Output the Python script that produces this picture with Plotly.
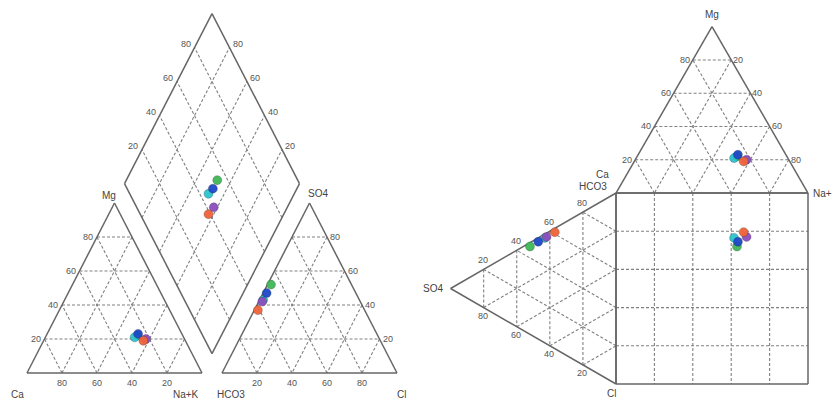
import plotly.graph_objects as go

# ---- sample chemistry (% meq/L) ----
samples = ["S1", "S2", "S3", "S4", "S5"]
colors = ["#F0643A", "#8C4DBD", "#1E48C8", "#2CC3CE", "#3FB856"]
ca = [24, 22, 25, 28, 26]
mg = [19, 20, 23, 21, 22]
na_k = [57, 58, 52, 51, 52]
hco3 = [61, 56, 51, 55, 46]
so4 = [37, 42, 47, 43, 52]
cl = [2, 2, 2, 2, 2]
grid_levels = [20, 40, 60, 80]

# ---- layout geometry (page pixels) ----
W, H = 832, 400
P_SIDE, P_HGT, P_GAP = 175.0, 170.0, 20.0
P_X0, P_Y0 = 27.0, 373.0
D_X0, D_Y0, D_SIDE_X, D_SIDE_Y = 616.0, 193.0, 192.0, 191.0

def lerp3(v1, v2, v3, f1, f2, f3):
    return (v1[0] * f1 + v2[0] * f2 + v3[0] * f3, v1[1] * f1 + v2[1] * f2 + v3[1] * f3)

# Piper triangles: vertices keyed by component
p_cat = {"Ca": (P_X0, P_Y0), "Na": (P_X0 + P_SIDE, P_Y0), "Mg": (P_X0 + P_SIDE / 2, P_Y0 - P_HGT)}
ax0 = P_X0 + P_SIDE + P_GAP
p_an = {"HCO3": (ax0, P_Y0), "Cl": (ax0 + P_SIDE, P_Y0), "SO4": (ax0 + P_SIDE / 2, P_Y0 - P_HGT)}
g = P_GAP / P_SIDE
p_B = (P_X0 + P_SIDE + P_GAP / 2, P_Y0 - g * P_HGT)
p_L = (p_B[0] - P_SIDE / 2, p_B[1] - P_HGT)
p_R = (p_B[0] + P_SIDE / 2, p_B[1] - P_HGT)
p_T = (p_B[0], p_B[1] - 2 * P_HGT)

def diamond(a, b):
    # a = Ca+Mg fraction, b = SO4+Cl fraction
    return (p_B[0] + a * (p_L[0] - p_B[0]) + b * (p_R[0] - p_B[0]),
            p_B[1] + a * (p_L[1] - p_B[1]) + b * (p_R[1] - p_B[1]))

# Durov: cation triangle on top of the square, anion triangle to its left
d_hx = D_SIDE_X * 0.8660254
d_hy = D_SIDE_Y * 0.8660254
d_cat = {"Ca": (D_X0, D_Y0), "Na": (D_X0 + D_SIDE_X, D_Y0), "Mg": (D_X0 + D_SIDE_X / 2, D_Y0 - d_hx)}
d_an = {"HCO3": (D_X0, D_Y0), "Cl": (D_X0, D_Y0 + D_SIDE_Y), "SO4": (D_X0 - d_hy, D_Y0 + D_SIDE_Y / 2)}

def tern(tri, keys, fr):
    return lerp3(tri[keys[0]], tri[keys[1]], tri[keys[2]], *fr)

frame_x, frame_y = [], []
grid_x, grid_y = [], []

def seg(xs, ys, p, q):
    xs += [p[0], q[0], None]
    ys += [p[1], q[1], None]

def poly(pts):
    for i in range(len(pts)):
        seg(frame_x, frame_y, pts[i], pts[(i + 1) % len(pts)])

def tri_grid(tri, keys):
    for lv in grid_levels:
        k = lv / 100
        for i in range(3):
            f1 = [0, 0, 0]
            f2 = [0, 0, 0]
            f1[i] = f2[i] = k
            f1[(i + 1) % 3] = 1 - k
            f2[(i + 2) % 3] = 1 - k
            seg(grid_x, grid_y, tern(tri, keys, f1), tern(tri, keys, f2))

ck = ("Ca", "Na", "Mg")
ak = ("HCO3", "Cl", "SO4")

# frames
poly([p_cat["Ca"], p_cat["Na"], p_cat["Mg"]])
poly([p_an["HCO3"], p_an["Cl"], p_an["SO4"]])
poly([p_B, p_R, p_T, p_L])
poly([d_cat["Ca"], d_cat["Na"], d_cat["Mg"]])
poly([d_an["HCO3"], d_an["Cl"], d_an["SO4"]])
poly([(D_X0, D_Y0), (D_X0 + D_SIDE_X, D_Y0), (D_X0 + D_SIDE_X, D_Y0 + D_SIDE_Y), (D_X0, D_Y0 + D_SIDE_Y)])

# grids
tri_grid(p_cat, ck)
tri_grid(p_an, ak)
tri_grid(d_cat, ck)
tri_grid(d_an, ak)
for lv in grid_levels:
    k = lv / 100
    seg(grid_x, grid_y, diamond(k, 0), diamond(k, 1))
    seg(grid_x, grid_y, diamond(0, k), diamond(1, k))
    xs = D_X0 + D_SIDE_X * k
    ys = D_Y0 + D_SIDE_Y * k
    seg(grid_x, grid_y, (xs, D_Y0), (xs, D_Y0 + D_SIDE_Y))
    seg(grid_x, grid_y, (D_X0, ys), (D_X0 + D_SIDE_X, ys))

fig = go.Figure()
fig.add_trace(go.Scatter(x=grid_x, y=grid_y, mode="lines", hoverinfo="skip",
                         line=dict(color="#808080", width=1.1, dash="3px,2px")))
fig.add_trace(go.Scatter(x=frame_x, y=frame_y, mode="lines", hoverinfo="skip",
                         line=dict(color="#666666", width=1.5)))

# ---- sample positions ----
draw_order = [4, 3, 2, 1, 0]
for i in draw_order:
    c = (ca[i] / 100, na_k[i] / 100, mg[i] / 100)
    a = (hco3[i] / 100, cl[i] / 100, so4[i] / 100)
    pc = tern(p_cat, ck, c)
    pa = tern(p_an, ak, a)
    pd = diamond(c[0] + c[2], a[1] + a[2])
    dc = tern(d_cat, ck, c)
    da = tern(d_an, ak, a)
    sq = (dc[0], da[1])
    pts = [pc, pa, pd, dc, da, sq]
    fig.add_trace(go.Scatter(
        x=[p[0] for p in pts], y=[p[1] for p in pts], mode="markers", name=samples[i],
        marker=dict(size=9, color=colors[i], opacity=0.95,
                    line=dict(color="rgba(40,40,40,0.35)", width=0.8))))

# ---- labels ----
ann = []

def label(x, y, text, size=9, color="#555555"):
    ann.append(dict(x=x, y=y, text=text, showarrow=False, xref="x", yref="y",
                    xanchor="center", yanchor="middle",
                    font=dict(family="Liberation Sans, Arial, sans-serif", size=size, color=color)))

def edge_labels(tri, keys, frac_fn, text_fn, dx, dy):
    for lv in grid_levels:
        k = lv / 100
        p = tern(tri, keys, frac_fn(k))
        label(p[0] + dx, p[1] + dy, text_fn(lv))

# Piper cation triangle
edge_labels(p_cat, ck, lambda k: (1 - k, 0, k), lambda v: str(v), -9, 0)
edge_labels(p_cat, ck, lambda k: (k, 1 - k, 0), lambda v: str(v), 0, 10)
# Piper anion triangle
edge_labels(p_an, ak, lambda k: (0, 1 - k, k), lambda v: str(v), 8, 0)
edge_labels(p_an, ak, lambda k: (1 - k, k, 0), lambda v: str(v), 0, 10)
# Piper diamond
for lv in grid_levels:
    k = lv / 100
    p = diamond(1, k)
    label(p[0] - 9, p[1] - 4, str(lv))
    p = diamond(k, 1)
    label(p[0] + 8, p[1] - 4, str(lv))
# Durov cation triangle
edge_labels(d_cat, ck, lambda k: (1 - k, 0, k), lambda v: str(v), -8, 0)
edge_labels(d_cat, ck, lambda k: (0, 1 - k, k), lambda v: str(100 - v), 7, 0)
# Durov anion triangle
edge_labels(d_an, ak, lambda k: (1 - k, 0, k), lambda v: str(100 - v), -1, -9)
edge_labels(d_an, ak, lambda k: (0, 1 - k, k), lambda v: str(v), -1, 8)

# vertex names
vc = "#444444"
label(p_cat["Ca"][0] - 10, P_Y0 + 21, "Ca", 10, vc)
label(p_cat["Na"][0] - 16, P_Y0 + 21, "Na+K", 10, vc)
label(p_an["HCO3"][0] + 9, P_Y0 + 21, "HCO3", 10, vc)
label(p_an["Cl"][0] + 4, P_Y0 + 21, "Cl", 10, vc)
label(p_cat["Mg"][0] - 6, p_cat["Mg"][1] - 8, "Mg", 10, vc)
label(p_an["SO4"][0] + 8, p_an["SO4"][1] - 10, "SO4", 10, vc)
label(d_cat["Mg"][0], d_cat["Mg"][1] - 12, "Mg", 10, vc)
label(d_cat["Ca"][0] - 14, d_cat["Ca"][1] - 19, "Ca", 10, vc)
label(d_an["HCO3"][0] - 23, d_an["HCO3"][1] - 7, "HCO3", 10, vc)
label(d_cat["Na"][0] + 14, d_cat["Na"][1], "Na+", 10, vc)
label(d_an["SO4"][0] - 18, d_an["SO4"][1], "SO4", 10, vc)
label(d_an["Cl"][0] - 5, d_an["Cl"][1] + 9, "Cl", 10, vc)

fig.update_layout(
    width=W, height=H, margin=dict(l=0, r=0, t=0, b=0),
    paper_bgcolor="white", plot_bgcolor="white", showlegend=False,
    annotations=ann,
    xaxis=dict(range=[0, W], visible=False, fixedrange=True),
    yaxis=dict(range=[H, 0], visible=False, fixedrange=True),
)
fig.write_html("out.html")
